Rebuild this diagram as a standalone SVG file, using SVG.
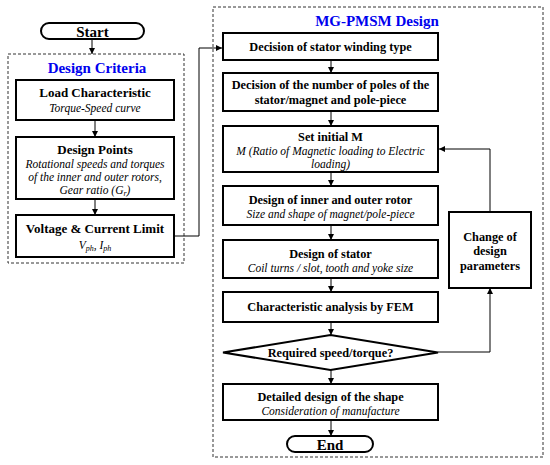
<svg xmlns="http://www.w3.org/2000/svg" width="550" height="465" viewBox="0 0 550 465">
<style>
text{font-family:"Liberation Serif","Times New Roman",serif;text-anchor:middle;fill:#000}
.t{font-weight:bold;font-size:13px}
.tr{font-weight:bold;font-size:12.3px}
.s{font-style:italic;font-size:11.5px}
.h{font-weight:bold;font-size:15px;fill:#0000ee}
.term{font-weight:bold;font-size:15px}
.box{fill:#fff;stroke:#000;stroke-width:2}
.grp{fill:none;stroke:#333;stroke-width:1;stroke-dasharray:3,2}
.c{fill:none;stroke:#000;stroke-width:1;marker-end:url(#a)}
</style>
<defs>
<marker id="a" markerUnits="userSpaceOnUse" markerWidth="7" markerHeight="7" refX="6" refY="3" orient="auto">
<path d="M0,0 L6,3 L0,6 z" fill="#000"/>
</marker>
</defs>
<rect width="550" height="465" fill="#fff"/>
<g id="design-criteria-group">
<rect class="grp" x="8" y="54" width="176" height="209"/>
<text class="h" x="97" y="73">Design Criteria</text>
</g>
<g id="mg-pmsm-group">
<rect class="grp" x="213" y="7" width="330" height="450"/>
<text class="h" x="377" y="25.5">MG-PMSM Design</text>
</g>
<g id="connectors">
<line class="c" x1="92" y1="39" x2="92" y2="54"/>
<line class="c" x1="95" y1="120" x2="95" y2="137"/>
<line class="c" x1="95" y1="199" x2="95" y2="215"/>
<polyline class="c" points="174,236 199,236 199,48 222,48"/>
<line class="c" x1="331" y1="60" x2="331" y2="73"/>
<line class="c" x1="331" y1="111" x2="331" y2="126"/>
<line class="c" x1="331" y1="172" x2="331" y2="186"/>
<line class="c" x1="331" y1="225" x2="331" y2="240"/>
<line class="c" x1="331" y1="278" x2="331" y2="292"/>
<line class="c" x1="331" y1="322" x2="331" y2="335"/>
<line class="c" x1="331" y1="370" x2="331" y2="384"/>
<line class="c" x1="331" y1="420" x2="331" y2="436"/>
<polyline class="c" points="438,352 490,352 490,288"/>
<polyline class="c" points="490,212 490,149 439,149"/>
</g>
<g id="start">
<rect class="box" x="41" y="23" width="103" height="16" rx="8"/>
<text class="term" x="92.5" y="36.5">Start</text>
</g>
<g id="load-characteristic">
<rect class="box" x="16" y="80" width="158" height="40"/>
<text class="t" x="95" y="97">Load Characteristic</text>
<text class="s" x="95" y="112">Torque-Speed curve</text>
</g>
<g id="design-points">
<rect class="box" x="16" y="137" width="158" height="62"/>
<text class="t" x="95" y="154">Design Points</text>
<text class="s" x="95" y="168">Rotational speeds and torques</text>
<text class="s" x="95" y="181">of the inner and outer rotors,</text>
<text class="s" x="95" y="194">Gear ratio (G<tspan font-size="8" dy="2">r</tspan><tspan dy="-2">)</tspan></text>
</g>
<g id="voltage-current-limit">
<rect class="box" x="16" y="215" width="158" height="42"/>
<text class="t" x="95" y="233">Voltage &amp; Current Limit</text>
<text class="s" x="95" y="249">V<tspan font-size="8" dy="2">ph</tspan><tspan dy="-2">, I</tspan><tspan font-size="8" dy="2">ph</tspan></text>
</g>
<g id="stator-winding">
<rect class="box" x="223" y="33" width="215" height="27"/>
<text class="tr" x="330.5" y="51">Decision of stator winding type</text>
</g>
<g id="number-of-poles">
<rect class="box" x="223" y="73" width="215" height="38"/>
<text class="tr" x="330.5" y="89">Decision of the number of poles of the</text>
<text class="tr" x="330.5" y="104">stator/magnet and pole-piece</text>
</g>
<g id="set-initial-m">
<rect class="box" x="223" y="126" width="215" height="46"/>
<text class="tr" x="330.5" y="141">Set initial M</text>
<text class="s" x="330.5" y="155">M (Ratio of Magnetic loading to Electric</text>
<text class="s" x="330.5" y="168">loading)</text>
</g>
<g id="rotor-design">
<rect class="box" x="223" y="186" width="215" height="39"/>
<text class="tr" x="330.5" y="204">Design of inner and outer rotor</text>
<text class="s" x="330.5" y="218">Size and shape of magnet/pole-piece</text>
</g>
<g id="stator-design">
<rect class="box" x="223" y="240" width="215" height="38"/>
<text class="tr" x="330.5" y="258">Design of stator</text>
<text class="s" x="330.5" y="272">Coil turns / slot, tooth and yoke size</text>
</g>
<g id="fem-analysis">
<rect class="box" x="223" y="292" width="215" height="30"/>
<text class="tr" x="330.5" y="311">Characteristic analysis by FEM</text>
</g>
<g id="required-check">
<polygon class="box" points="223,352.5 330.5,335 438,352.5 330.5,370"/>
<text class="tr" x="330.5" y="357">Required speed/torque?</text>
</g>
<g id="detailed-design">
<rect class="box" x="223" y="384" width="215" height="36"/>
<text class="tr" x="330.5" y="401">Detailed design of the shape</text>
<text class="s" x="330.5" y="415">Consideration of manufacture</text>
</g>
<g id="end">
<rect class="box" x="287" y="436" width="86" height="16" rx="8"/>
<text class="term" x="330" y="449.5">End</text>
</g>
<g id="change-parameters">
<rect class="box" x="449" y="212" width="82" height="76"/>
<text class="tr" x="490" y="241" font-size="12.6">Change of</text>
<text class="tr" x="490" y="255" font-size="12.6">design</text>
<text class="tr" x="490" y="270" font-size="12.6">parameters</text>
</g>
</svg>
